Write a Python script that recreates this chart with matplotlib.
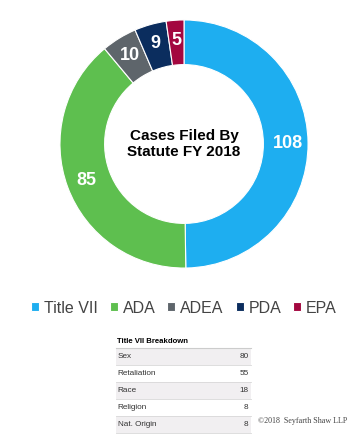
import matplotlib.pyplot as plt
import numpy as np

statutes = ['Title VII', 'ADA', 'ADEA', 'PDA', 'EPA']
cases = [108, 85, 10, 9, 5]
colors = ['#1EAEF0', '#5EBF4F', '#5E656B', '#0B2D5E', '#A3073F']

breakdown_labels = ['Sex', 'Retaliation', 'Race', 'Religion', 'Nat. Origin']
breakdown_values = [80, 55, 18, 8, 8]

fig = plt.figure(figsize=(3.6, 4.4), dpi=100)
fig.patch.set_facecolor('white')

# donut, centred at about (184, 144) px, outer radius ~124 px
ax = fig.add_axes([54 / 360, 1 - 274 / 440, 260 / 360, 260 / 440])
wedges, _ = ax.pie(cases, colors=colors, startangle=90, counterclock=False,
                   radius=1.0, wedgeprops=dict(width=0.36, edgecolor='white', linewidth=0.8))
ax.set_xlim(-1.048, 1.048)
ax.set_ylim(-1.048, 1.048)
ax.set_aspect('equal')
for w, v in zip(wedges, cases):
    ang = np.deg2rad((w.theta1 + w.theta2) / 2)
    r = 0.84
    ax.text(r * np.cos(ang), r * np.sin(ang), str(v), ha='center', va='center',
            color='white', fontsize=13, fontweight='bold', family='Liberation Sans')
ax.text(0, 0, 'Cases Filed By\nStatute FY 2018', ha='center', va='center',
        fontsize=11, fontweight='bold', family='Liberation Sans', linespacing=1.25)

# legend
leg = fig.legend(wedges, statutes, loc='center', bbox_to_anchor=(184 / 360, 0.30), ncol=5,
                 frameon=False, handlelength=0.5, handleheight=0.5, handletextpad=0.3,
                 columnspacing=0.75, prop={'family': 'Liberation Sans', 'size': 11.5})
for t in leg.get_texts():
    t.set_color('#444444')

# table
tx0, tx1 = 116 / 360, 251 / 360
fig.text(tx0 + 0.003, 1 - 341 / 440, 'Title VII Breakdown', fontsize=5.6, fontweight='bold',
         family='Liberation Sans', va='center')
row_h = 17.0 / 440
top = 1 - 348 / 440
for i, (lab, val) in enumerate(zip(breakdown_labels, breakdown_values)):
    y0 = top - (i + 1) * row_h
    if i % 2 == 0:
        fig.patches.append(plt.Rectangle((tx0, y0), tx1 - tx0, row_h, transform=fig.transFigure,
                                         facecolor='#F1EFF1', edgecolor='none'))
    fig.lines.append(plt.Line2D([tx0, tx1], [y0, y0], transform=fig.transFigure,
                                color='#D8D8D8', lw=0.6))
    fig.text(tx0 + 0.005, y0 + row_h / 2, lab, fontsize=5.9, family='Liberation Sans',
             va='center', color='#333333')
    fig.text(tx1 - 0.007, y0 + row_h / 2, str(val), fontsize=5.9, family='Liberation Sans',
             va='center', ha='right', color='#333333')
fig.lines.append(plt.Line2D([tx0, tx1], [top, top], transform=fig.transFigure,
                            color='#CCCCCC', lw=0.8))

fig.text(258 / 360, 1 - 421 / 440, '\u00a92018  Seyfarth Shaw LLP', fontsize=5.8,
         family='Liberation Serif', va='center', color='#444444')

fig.savefig('out.png', dpi=100)
